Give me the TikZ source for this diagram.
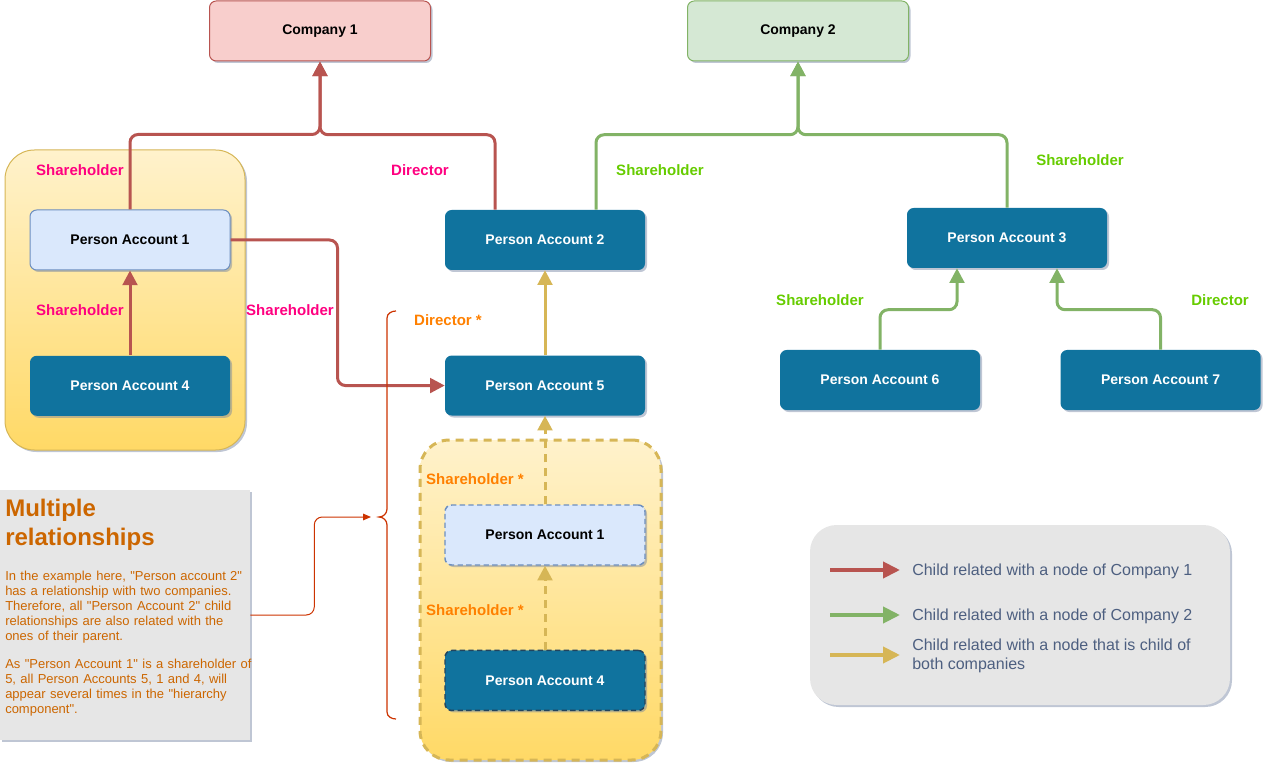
\documentclass[tikz,border=0pt]{standalone}
\usepackage{fontspec}
\setmainfont{Liberation Sans}
\newfontfamily\plainsans{Liberation Sans}
\usetikzlibrary{arrows.meta,positioning,calc,shadows}

\definecolor{redline}{HTML}{B85450}
\definecolor{redfill}{HTML}{F8CECC}
\definecolor{greenline}{HTML}{82B366}
\definecolor{greenfill}{HTML}{D5E8D4}
\definecolor{yline}{HTML}{D6B656}
\definecolor{grouptop}{HTML}{FFF2CC}
\definecolor{groupbot}{HTML}{FFD966}
\definecolor{acctblue}{HTML}{10739E}
\definecolor{lightline}{HTML}{6C8EBF}
\definecolor{lightfill}{HTML}{DAE8FC}
\definecolor{darkdash}{HTML}{23445D}
\definecolor{pinklbl}{HTML}{FF0080}
\definecolor{greenlbl}{HTML}{66CC00}
\definecolor{orangelbl}{HTML}{FF8000}
\definecolor{notetxt}{HTML}{CC6600}
\definecolor{bracecol}{HTML}{CC3300}
\definecolor{panelgray}{HTML}{E6E6E6}
\definecolor{legendtxt}{HTML}{4D5F80}
\definecolor{shadowgray}{HTML}{7080A0}

\begin{document}
\begin{tikzpicture}[
    x=0.75pt, y=-0.75pt,
    font=\fontsize{10.5}{12.6}\selectfont\bfseries,
    node distance=63.75pt,
    every node/.style={align=center},
    boxshadow/.style={drop shadow={shadow xshift=1.5pt, shadow yshift=-1.5pt, fill=shadowgray, opacity=0.45}},
    box/.style={rounded corners=5pt, minimum width=150pt, minimum height=45pt, inner sep=3pt, boxshadow},
    account/.style={box, fill=acctblue, text=white},
    accountlight/.style={box, draw=lightline, fill=lightfill, line width=0.75pt},
    company/.style={box, minimum width=165.75pt, line width=0.75pt},
    groupbox/.style={rounded corners=22pt, top color=grouptop, bottom color=groupbot, draw=yline, line width=0.75pt, boxshadow},
    panel/.style={fill=panelgray, boxshadow},
    lbl/.style={font=\fontsize{11.25}{13}\selectfont\bfseries},
    c1lbl/.style={lbl, text=pinklbl},
    c2lbl/.style={lbl, text=greenlbl},
    bothlbl/.style={lbl, text=orangelbl},
    legendtext/.style={font=\fontsize{12}{14.25}\selectfont, text=legendtxt, align=left, anchor=west, inner sep=0pt},
    >={Triangle[length=11pt, width=11pt]},
    link/.style={->, line width=2.25pt, rounded corners=6pt},
    c1arr/.style={link, draw=redline},
    c2arr/.style={link, draw=greenline},
    botharr/.style={link, draw=yline},
    dashed-arr/.style={botharr, dash pattern=on 6pt off 4.5pt},
    legarr/.style={-{Triangle[length=12.75pt, width=12pt]}, line width=3pt},
    notearr/.style={-{Triangle[length=6pt, width=5pt]}, draw=bracecol, line width=0.75pt, rounded corners=6pt},
]
\useasboundingbox (0,0) rectangle (1274,773);

% --- Groups (drawn first, behind the accounts) ---
\node[groupbox, minimum width=180pt, minimum height=225pt] (grp1) at (125,300) {};
\node[groupbox, dash pattern=on 6pt off 4.5pt, line width=2.25pt, minimum width=180.75pt, minimum height=240pt] (grp2) at (540.5,600) {};

% --- Companies ---
\node[company, draw=redline, fill=redfill]     (co1) at (320,31) {Company 1};
\node[company, draw=greenline, fill=greenfill] (co2) [right=192pt of co1] {Company 2};

% --- Accounts ---
\node[accountlight] (pa1) at (130,240) {Person Account 1};
\node[account]      (pa4) [below=of pa1] {Person Account 4};
\node[account]      (pa2) at (545,240) {Person Account 2};
\node[account]      (pa5) [below=of pa2] {Person Account 5};
\node[account]      (pa3) at (1007,238) {Person Account 3};
\node[account]      (pa6) at (880,380) {Person Account 6};
\node[account]      (pa7) [right=60pt of pa6] {Person Account 7};

% --- Repeated accounts under Person Account 5 ---
\node[accountlight, dash pattern=on 4pt off 2.5pt, line width=1.1pt] (pa1d) at (545,535) {Person Account 1};
\node[account, draw=darkdash, dash pattern=on 4pt off 2.5pt, line width=1.1pt] (pa4d) [below=63pt of pa1d] {Person Account 4};

% --- Arrows: Company 1 ---
\draw[c1arr] (pa1.north) -- ++(0,-75) -| (co1.south);
\draw[c1arr] ($(pa2.north)+(-50,0)$) -- ++(0,-75) -| (co1.south);
\draw[c1arr] (pa1.east) -- ++(107,0) |- (pa5.west);
\draw[c1arr] (pa4.north) -- (pa1.south);

% --- Arrows: Company 2 ---
\draw[c2arr] ($(pa2.north)+(51,0)$) -- ++(0,-75) -| (co2.south);
\draw[c2arr] (pa3.north) -- ++(0,-73) -| (co2.south);
\draw[c2arr] (pa6.north) -- ++(0,-40) -| ($(pa3.south)+(-50,0)$);
\draw[c2arr] (pa7.north) -- ++(0,-40) -| ($(pa3.south)+(50,0)$);

% --- Arrows: child of both ---
\draw[botharr] (pa5.north) -- (pa2.south);
\draw[dashed-arr] (pa1d.north) -- (pa5.south);
\draw[dashed-arr] (pa4d.north) -- (pa1d.south);

% --- Relationship labels ---
\node[c1lbl] (l1) at (80,170) {Shareholder};
\node[c1lbl] (l2) at (80,310) {Shareholder};
\node[c1lbl] (l3) at (290,310) {Shareholder};
\node[c1lbl] (l4) at (420,170) {Director};
\node[c2lbl] (l5) at (660,170) {Shareholder};
\node[c2lbl] (l6) at (1080,160) {Shareholder};
\node[c2lbl] (l7) at (820,300) {Shareholder};
\node[c2lbl] (l8) at (1220,300) {Director};
\node[bothlbl] (l9) at (448,320) {Director *};
\node[bothlbl] (l10) at (475,479) {Shareholder *};
\node[bothlbl] (l11) at (475,610) {Shareholder *};

% --- Brace round the repeated part ---
\draw[bracecol, line width=0.9pt] (396,311) to[out=180,in=90] (387,318) -- (387,509)
    to[out=270,in=0] (379,517) to[out=0,in=90] (387,525) -- (387,712) to[out=270,in=180] (396,719);
\coordinate (bracetip) at (371,517);

% --- Note ---
\node[panel, minimum width=187.5pt, minimum height=187.5pt, inner sep=0pt] (note) at (125,615) {};
\node[anchor=north west, text width=186pt, align=left, inner sep=0pt, text=notetxt, font=\plainsans\fontsize{9.75}{11.25}\selectfont] (notetext) at (5,499) {%
    {\fontsize{18}{22}\selectfont\bfseries Multiple\\relationships\par}
    \vspace{15pt}
    In the example here, "Person account 2"\\
    has a relationship with two companies.\\
    Therefore, all "Person Account 2" child\\
    relationships are also related with the\\
    ones of their parent.\par
    \vspace{9.5pt}
    As "Person Account 1" is a shareholder of\\
    5, all Person Accounts 5, 1 and 4, will\\
    appear several times in the "hierarchy\\
    component".\par};
\draw[notearr] (note.east) -- ++(64,0) |- (bracetip);

% --- Legend ---
\node[panel, rounded corners=20pt, minimum width=315pt, minimum height=135pt] (legend) at (1020,615) {};
\coordinate (leg1a) at (830,570); \coordinate (leg1b) at (900,570);
\coordinate (leg2a) at (830,615); \coordinate (leg2b) at (900,615);
\coordinate (leg3a) at (830,655); \coordinate (leg3b) at (900,655);
\draw[legarr, draw=redline, fill=redline]     (leg1a) -- (leg1b);
\draw[legarr, draw=greenline, fill=greenline] (leg2a) -- (leg2b);
\draw[legarr, draw=yline, fill=yline]         (leg3a) -- (leg3b);
\node[legendtext] (leg1) at (912,571) {Child related with a node of Company 1};
\node[legendtext] (leg2) at (912,616) {Child related with a node of Company 2};
\node[legendtext] (leg3) at (912,656) {Child related with a node that is child of\\both companies};

\end{tikzpicture}
\end{document}
